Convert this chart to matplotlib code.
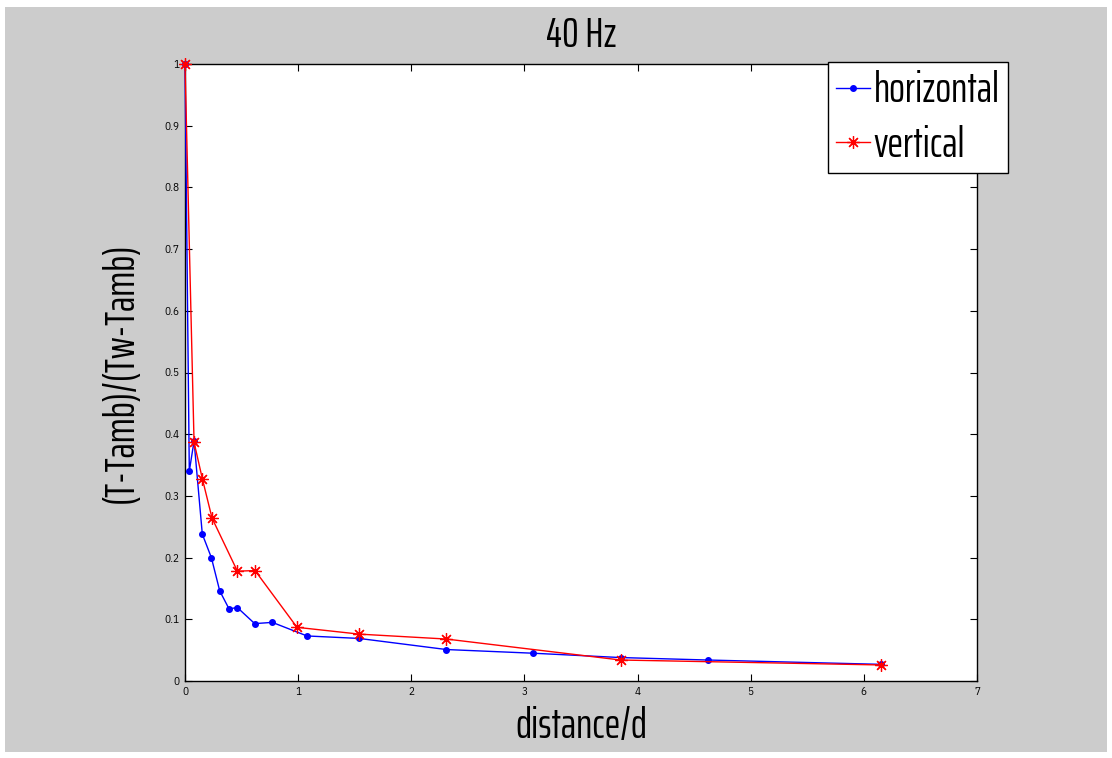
"""40 Hz decay of normalised temperature with distance (horizontal vs vertical)."""
import matplotlib
matplotlib.use("Agg")
import matplotlib.pyplot as plt
from matplotlib.patches import Rectangle
from matplotlib import font_manager

# data
x_horizontal = [0.0, 0.038, 0.08, 0.153, 0.233, 0.307, 0.389, 0.463, 0.616,
                0.772, 1.079, 1.538, 2.31, 3.08, 3.85, 4.62, 6.15]
y_horizontal = [1.0, 0.340, 0.389, 0.238, 0.200, 0.146, 0.117, 0.119, 0.093,
                0.095, 0.073, 0.069, 0.051, 0.045, 0.038, 0.034, 0.027]
x_vertical = [0.0, 0.08, 0.153, 0.239, 0.463, 0.619, 0.99, 1.538, 2.31,
              3.85, 6.15]
y_vertical = [1.0, 0.387, 0.328, 0.264, 0.178, 0.179, 0.087, 0.076, 0.068,
              0.034, 0.026]
x_ticks = [0, 1, 2, 3, 4, 5, 6, 7]
y_ticks = [0, 0.1, 0.2, 0.3, 0.4, 0.5, 0.6, 0.7, 0.8, 0.9, 1]
y_ticklabels = ["0", "0.1", "0.2", "0.3", "0.4", "0.5", "0.6", "0.7",
                "0.8", "0.9", "1"]


def first_font(candidates):
    names = {f.name for f in font_manager.fontManager.ttflist}
    for c in candidates:
        if c in names:
            return c
    return "DejaVu Sans"


big_font = first_font(["Saira ExtraCondensed", "Saira Extra Condensed",
                       "Pathway Gothic One", "Big Shoulders Text",
                       "Antonio", "Oswald", "Open Sans Condensed",
                       "IBM Plex Sans Condensed"])
small_font = first_font(["IBM Plex Sans Condensed", "Open Sans Condensed",
                         "Liberation Sans"])
plt.rcParams["font.family"] = [big_font, "DejaVu Sans"]

W, H = 1112, 758
fig = plt.figure(figsize=(W / 100, H / 100), dpi=100, facecolor="white")
# grey MATLAB-style figure background inside a thin white margin
fig.patches.append(Rectangle((5 / W, 1 - 752 / H), 1102 / W, 745 / H,
                             transform=fig.transFigure, facecolor="#cccccc",
                             edgecolor="none", zorder=-10))

# size the large condensed font so "horizontal" is ~126 px wide, as in the reference
renderer = fig.canvas.get_renderer()
probe = fig.text(0, 0, "horizontal", fontsize=30)
probe_w = probe.get_window_extent(renderer).width
probe.remove()
big = 30 * 126 / probe_w

ax = fig.add_axes([185 / W, 1 - 681 / H, 792 / W, 617 / H])
ax.plot(x_horizontal, y_horizontal, "-", color="blue", marker=".",
        markersize=8, linewidth=1, label="horizontal", clip_on=False,
        zorder=3)
# MATLAB '*' marker: eight-spoke asterisk
ax.plot(x_vertical, y_vertical, "-", color="red", marker=(8, 2, 0),
        markersize=9, markeredgewidth=0.9, linewidth=1, label="vertical",
        clip_on=False, zorder=4)

ax.set_xlim(0, 7)
ax.set_ylim(0, 1)
ax.set_xticks(x_ticks)
ax.set_yticks(y_ticks)
ax.set_yticklabels(y_ticklabels)
ax.tick_params(direction="in", top=True, right=True, labelsize=8, length=5,
               width=0.8, pad=4)
for lbl in ax.get_xticklabels() + ax.get_yticklabels():
    lbl.set_family(small_font)
for sp in ax.spines.values():
    sp.set_linewidth(1)

ax.set_xlabel("distance/d", fontsize=big, labelpad=7)
ax.set_ylabel("(T-Tamb)/(Tw-Tamb)", fontsize=big, labelpad=17)
ax.set_title("40 Hz", fontsize=big, pad=12)

leg = ax.legend(loc="upper left", bbox_to_anchor=(828 / W, 1 - 62 / H),
                bbox_transform=fig.transFigure, fontsize=big, frameon=True,
                fancybox=False, edgecolor="black", framealpha=1,
                handlelength=0.8, handletextpad=0.1, borderpad=0.2,
                labelspacing=0.35, borderaxespad=0)
leg.get_frame().set_linewidth(1)
leg.set_zorder(10)

fig.savefig("out.png", dpi=100, facecolor=fig.get_facecolor())
